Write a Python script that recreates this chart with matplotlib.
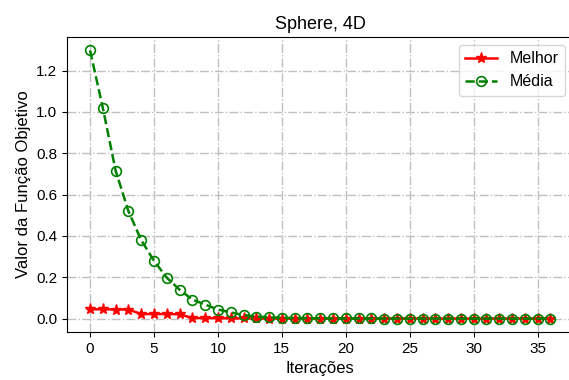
import matplotlib
matplotlib.use('Agg')
import matplotlib.pyplot as plt

plt.rcParams['font.family'] = ['Liberation Sans', 'DejaVu Sans']

iteracoes = list(range(37))
melhor = [0.045, 0.045, 0.044, 0.044, 0.022, 0.022, 0.022, 0.021, 0.003, 0.002,
          0.002, 0.001, 0.001, 0.0005, 0.0003, 0.0002, 0.0001, 0.0001, 0.0001, 0.0,
          0.0, 0.0, 0.0, 0.0, 0.0, 0.0, 0.0, 0.0, 0.0, 0.0,
          0.0, 0.0, 0.0, 0.0, 0.0, 0.0, 0.0]
media = [1.298, 1.02, 0.716, 0.52, 0.38, 0.28, 0.198, 0.14, 0.092, 0.068,
         0.044, 0.03, 0.017, 0.01, 0.006, 0.004, 0.003, 0.002, 0.0015, 0.001,
         0.0008, 0.0006, 0.0005, 0.0004, 0.0003, 0.0002, 0.0002, 0.0001, 0.0001, 0.0001,
         0.0001, 0.0, 0.0, 0.0, 0.0, 0.0, 0.0]

fig = plt.figure(figsize=(5.69, 3.80), dpi=100)
ax = fig.add_axes([0.1178, 0.1263, 0.890, 0.7763])

ax.plot(iteracoes, melhor, 'r-*', lw=1.8, markersize=8, label='Melhor')
ax.plot(iteracoes, media, 'g--o', lw=1.8, markersize=7, mfc='none', mew=1.2, label='Média')

ax.set_xlim(-1.8, 37.8)
ax.set_xticks(range(0, 36, 5))
ax.tick_params(labelsize=11)
ax.spines['right'].set_visible(False)
ax.grid(True, color='#c0c0c0', linestyle='-.', lw=1)
ax.set_xlabel('Iterações', fontsize=12)
ax.set_ylabel('Valor da Função Objetivo', fontsize=12)
ax.set_title('Sphere, 4D', fontsize=13)
ax.legend(loc='upper right', fontsize=11.5)

fig.savefig('out.png', dpi=100)
